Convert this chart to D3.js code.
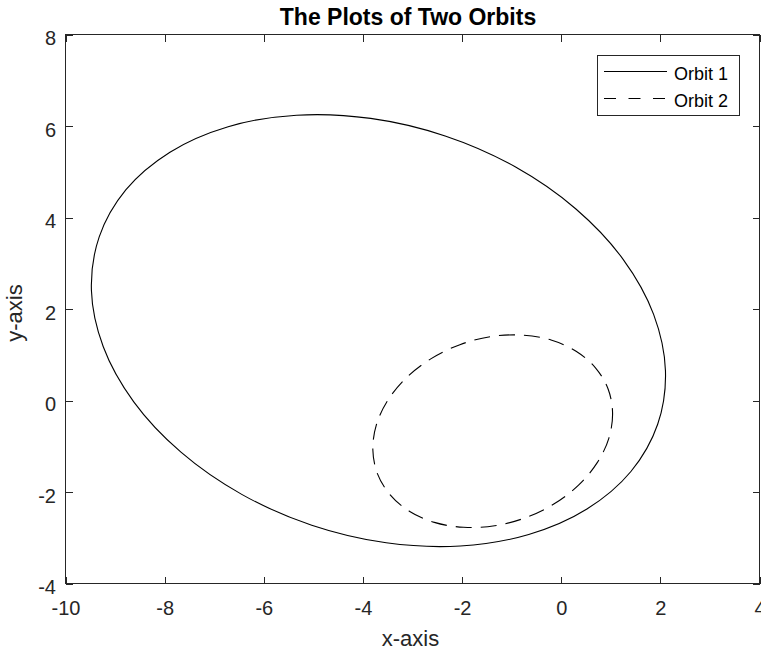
<!DOCTYPE html>
<html>
<head>
<meta charset="utf-8">
<script src="https://cdn.jsdelivr.net/npm/d3@7/dist/d3.min.js"></script>
<style>
  html, body { margin: 0; padding: 0; background: #fff; }
  svg { display: block; font-family: "Liberation Sans", Arial, Helvetica, sans-serif; }
</style>
</head>
<body>
<svg id="chart" width="761" height="652"></svg>
<script>
// ---- data ----
const titleText = "The Plots of Two Orbits";
const xLabelText = "x-axis";
const yLabelText = "y-axis";
const seriesNames = ["Orbit 1", "Orbit 2"];
const xTicks = [-10, -8, -6, -4, -2, 0, 2, 4];
const yTicks = [-4, -2, 0, 2, 4, 6, 8];

// Orbit 1 (solid) sampled points
const orbit1X = [1.946, 1.406, 0.519, -0.655, -2.036, -3.530, -5.033, -6.445, -7.671, -8.623, -9.238, -9.477,
                 -9.320, -8.780, -7.893, -6.719, -5.338, -3.844, -2.341, -0.929, 0.297, 1.249, 1.864, 2.103];
const orbit1Y = [-0.520, -1.552, -2.372, -2.929, -3.180, -3.110, -2.726, -2.052, -1.130, -0.030, 1.174, 2.405,
                 3.576, 4.608, 5.428, 5.985, 6.236, 6.166, 5.782, 5.108, 4.186, 3.086, 1.882, 0.651];

// Orbit 2 (dashed) sampled points
const orbit2X = [0.944, 1.036, 0.964, 0.730, 0.355, -0.141, -0.720, -1.343, -1.971, -2.559, -3.064, -3.455,
                 -3.708, -3.800, -3.728, -3.494, -3.119, -2.623, -2.044, -1.421, -0.793, -0.205, 0.300, 0.691];
const orbit2Y = [0.256, -0.264, -0.815, -1.353, -1.845, -2.258, -2.562, -2.739, -2.772, -2.664, -2.420, -2.057,
                 -1.598, -1.078, -0.527, 0.011, 0.503, 0.916, 1.220, 1.397, 1.430, 1.322, 1.078, 0.715];

// ---- layout ----
const svg = d3.select("#chart");
const pLeft = 65.5, pRight = 759.5, pTop = 34.5, pBottom = 583.5;
const axisColor = "#262626";

const x = d3.scaleLinear().domain([-10, 4]).range([pLeft, pRight]);
const y = d3.scaleLinear().domain([-4, 8]).range([pBottom, pTop]);

const tickLen = 7;
const fmt = d => d < 0 ? "-" + Math.abs(d) : String(d);

// bottom axis (ticks inward)
const gx = svg.append("g").attr("transform", `translate(0,${pBottom})`)
  .call(d3.axisBottom(x).tickValues(xTicks).tickSizeInner(-tickLen).tickSizeOuter(0).tickPadding(0).tickFormat(fmt));
gx.select(".domain").remove();
gx.selectAll(".tick line").attr("stroke", axisColor).attr("shape-rendering", "crispEdges");
gx.selectAll(".tick text").attr("font-size", 20).attr("fill", axisColor)
  .attr("y", 31.5).attr("dy", 0).attr("font-family", "Liberation Sans, Arial, sans-serif");

// top axis mirror ticks
const gxt = svg.append("g").attr("transform", `translate(0,${pTop})`)
  .call(d3.axisTop(x).tickValues(xTicks).tickSizeInner(-tickLen).tickSizeOuter(0).tickFormat(""));
gxt.select(".domain").remove();
gxt.selectAll(".tick line").attr("stroke", axisColor).attr("shape-rendering", "crispEdges");

// left axis
const gy = svg.append("g").attr("transform", `translate(${pLeft},0)`)
  .call(d3.axisLeft(y).tickValues(yTicks).tickSizeInner(-tickLen).tickSizeOuter(0).tickPadding(0).tickFormat(fmt));
gy.select(".domain").remove();
gy.selectAll(".tick line").attr("stroke", axisColor).attr("shape-rendering", "crispEdges");
gy.selectAll(".tick text").attr("font-size", 20).attr("fill", axisColor)
  .attr("x", -9.5).attr("dy", "0.5em").attr("font-family", "Liberation Sans, Arial, sans-serif");

// right axis mirror ticks
const gyr = svg.append("g").attr("transform", `translate(${pRight},0)`)
  .call(d3.axisRight(y).tickValues(yTicks).tickSizeInner(-tickLen).tickSizeOuter(0).tickFormat(""));
gyr.select(".domain").remove();
gyr.selectAll(".tick line").attr("stroke", axisColor).attr("shape-rendering", "crispEdges");

// box
svg.append("rect")
  .attr("x", pLeft).attr("y", pTop)
  .attr("width", pRight - pLeft).attr("height", pBottom - pTop)
  .attr("fill", "none").attr("stroke", axisColor).attr("stroke-width", 1)
  .attr("shape-rendering", "crispEdges");

// orbits
const line = d3.line()
  .x(d => x(d[0])).y(d => y(d[1]))
  .curve(d3.curveCatmullRomClosed.alpha(0.5));

const orbit1 = orbit1X.map((v, i) => [v, orbit1Y[i]]);
const orbit2 = orbit2X.map((v, i) => [v, orbit2Y[i]]);

svg.append("path").datum(orbit1)
  .attr("d", line).attr("fill", "none").attr("stroke", "#000").attr("stroke-width", 1.1);

svg.append("path").datum(orbit2)
  .attr("d", line).attr("fill", "none").attr("stroke", "#000").attr("stroke-width", 1.1)
  .attr("stroke-dasharray", "16,9");

// title & labels
svg.append("text")
  .attr("x", 408).attr("y", 25)
  .attr("text-anchor", "middle").attr("font-size", 23).attr("font-weight", "bold")
  .attr("fill", "#000").text(titleText);

svg.append("text")
  .attr("x", 410.5).attr("y", 646)
  .attr("text-anchor", "middle").attr("font-size", 22).attr("fill", axisColor)
  .text(xLabelText);

svg.append("text")
  .attr("transform", `translate(22,${(pTop + pBottom) / 2 + 4}) rotate(-90)`)
  .attr("text-anchor", "middle").attr("font-size", 22).attr("fill", axisColor)
  .text(yLabelText);

// legend
const lg = svg.append("g");
lg.append("rect")
  .attr("x", 597.5).attr("y", 55.5).attr("width", 142).attr("height", 60)
  .attr("fill", "#fff").attr("stroke", axisColor).attr("stroke-width", 1)
  .attr("shape-rendering", "crispEdges");

const legendRows = [
  { name: seriesNames[0], dash: null, cy: 71.5 },
  { name: seriesNames[1], dash: "12,12.5", cy: 98.5 }
];
legendRows.forEach(r => {
  const l = lg.append("line")
    .attr("x1", 604).attr("x2", 667).attr("y1", r.cy).attr("y2", r.cy)
    .attr("stroke", "#000").attr("stroke-width", 1);
  if (r.dash) l.attr("stroke-dasharray", r.dash);
  lg.append("text")
    .attr("x", 674).attr("y", r.cy + 8.5)
    .attr("font-size", 18).attr("fill", "#000")
    .text(r.name);
});
</script>
</body>
</html>
